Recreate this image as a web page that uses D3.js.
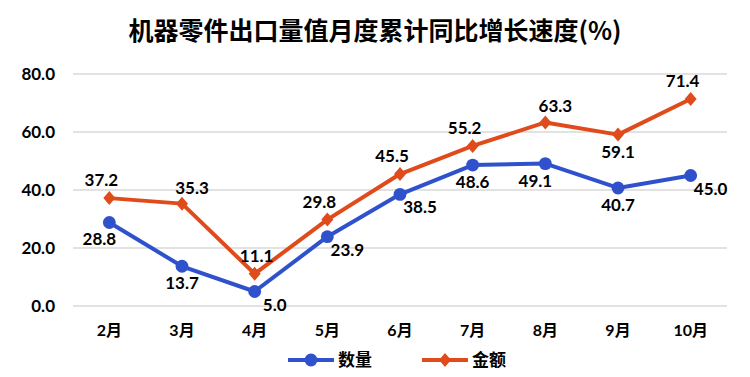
<!DOCTYPE html>
<html>
<head>
<meta charset="utf-8">
<script src="https://cdn.jsdelivr.net/npm/d3@7"></script>
<style>
    body { margin: 0; background: #fff; }
    text { font-family: Lato, "Noto Sans CJK SC", sans-serif; font-weight: bold; fill: #000; }
    .title { font-family: "Noto Sans CJK SC", sans-serif; font-size: 25px; }
</style>
</head>
<body>
<div id="chart"></div>
<script>
const months = ['2月', '3月', '4月', '5月', '6月', '7月', '8月', '9月', '10月'];
const quantity = [28.8, 13.7, 5.0, 23.9, 38.5, 48.6, 49.1, 40.7, 45.0];
const amount = [37.2, 35.3, 11.1, 29.8, 45.5, 55.2, 63.3, 59.1, 71.4];
const yTicks = [0, 20, 40, 60, 80];
// where each value label sits relative to its point
const quantityLabelPos = ['belowLeft', 'below', 'belowRight', 'belowRight', 'belowRight', 'below', 'belowLeft', 'below', 'belowRight'];
const amountLabelPos = ['aboveLeft', 'aboveRight', 'above', 'aboveLeft', 'aboveLeft', 'aboveLeft', 'aboveRight', 'below', 'aboveLeft'];

const width = 750, height = 377;
const margin = {top: 74, right: 23, bottom: 71, left: 73};
const innerW = width - margin.left - margin.right;
const innerH = height - margin.top - margin.bottom;

const blue = '#2f52cc';
const orange = '#e04b1b';

const svg = d3.select('#chart').append('svg')
    .attr('width', width)
    .attr('height', height);

svg.append('text')
    .attr('class', 'title')
    .attr('x', width / 2)
    .attr('y', 40)
    .attr('text-anchor', 'middle')
    .text('机器零件出口量值月度累计同比增长速度(%)');

const chart = svg.append('g')
    .attr('transform', `translate(${margin.left},${margin.top})`);

const xScale = d3.scaleBand()
    .domain(months)
    .range([0, innerW]);

const yScale = d3.scaleLinear()
    .domain([0, 80])
    .range([innerH, 0]);

// gridlines
chart.append('g')
    .selectAll('line')
    .data(yTicks)
    .join('line')
    .attr('x1', 0)
    .attr('x2', innerW)
    .attr('y1', d => yScale(d))
    .attr('y2', d => yScale(d))
    .attr('stroke', '#d9d9d9')
    .attr('stroke-width', 1.5);

const yAxis = d3.axisLeft(yScale)
    .tickValues(yTicks)
    .tickFormat(d3.format('.1f'))
    .tickSize(0)
    .tickPadding(18);

chart.append('g')
    .call(yAxis)
    .call(g => g.select('.domain').remove())
    .selectAll('text')
    .style('font-size', '17px')
    .attr('dy', '0.35em');

const xAxis = d3.axisBottom(xScale)
    .tickSize(0)
    .tickPadding(18);

chart.append('g')
    .attr('transform', `translate(0,${innerH})`)
    .call(xAxis)
    .call(g => g.select('.domain').remove())
    .selectAll('text')
    .style('font-size', '16px')
    .attr('dy', '0.75em');

const cx = (d, i) => xScale(months[i]) + xScale.bandwidth() / 2;

const line = d3.line()
    .x(cx)
    .y(d => yScale(d));

const labelOffset = {
    above: [2, -12],
    aboveLeft: [-8, -12],
    aboveRight: [10, -10],
    below: [0, 23],
    belowLeft: [-10, 23],
    belowRight: [20, 19]
};

function drawSeries(values, color, marker, labelPos) {
    const g = chart.append('g');
    g.append('path')
        .datum(values)
        .attr('fill', 'none')
        .attr('stroke', color)
        .attr('stroke-width', 4)
        .attr('stroke-linejoin', 'round')
        .attr('d', line);

    g.selectAll('.marker')
        .data(values)
        .join('path')
        .attr('class', 'marker')
        .attr('transform', (d, i) => `translate(${cx(d, i)},${yScale(d)})`)
        .attr('d', marker)
        .attr('fill', color);

    g.selectAll('.label')
        .data(values)
        .join('text')
        .attr('class', 'label')
        .attr('x', (d, i) => cx(d, i) + labelOffset[labelPos[i]][0])
        .attr('y', (d, i) => yScale(d) + labelOffset[labelPos[i]][1])
        .attr('text-anchor', 'middle')
        .style('font-size', '17px')
        .text(d => d3.format('.1f')(d));
}

const circleMarker = d3.symbol().type(d3.symbolCircle).size(130)();
const diamondMarker = 'M0,-7L6,0L0,7L-6,0Z';

drawSeries(amount, orange, diamondMarker, amountLabelPos);
drawSeries(quantity, blue, circleMarker, quantityLabelPos);

// legend
const legendItems = [
    {name: '数量', color: blue, marker: circleMarker, x: 288},
    {name: '金额', color: orange, marker: diamondMarker, x: 422}
];
const legend = svg.append('g')
    .attr('transform', 'translate(0,360)');

legendItems.forEach(item => {
    const lg = legend.append('g').attr('transform', `translate(${item.x},0)`);
    lg.append('line')
        .attr('x1', 0).attr('x2', 46)
        .attr('stroke', item.color)
        .attr('stroke-width', 4);
    lg.append('path')
        .attr('transform', 'translate(23,0)')
        .attr('d', item.marker)
        .attr('fill', item.color);
    lg.append('text')
        .attr('x', 50)
        .attr('dy', '0.36em')
        .style('font-size', '17px')
        .text(item.name);
});
</script>
</body>
</html>
